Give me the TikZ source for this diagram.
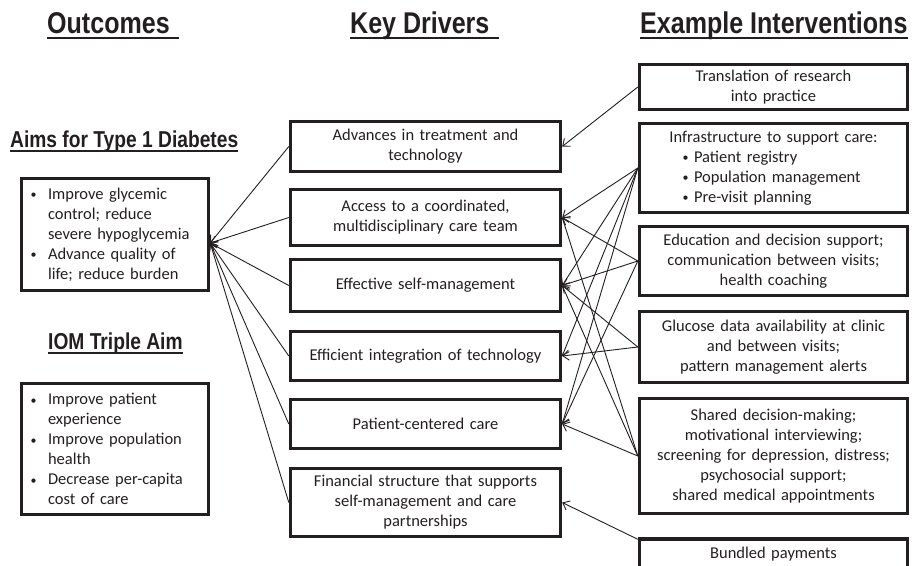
\documentclass[tikz,border=0pt]{standalone}
\usepackage{fontspec}
\setmainfont{Carlito}
\newfontfamily\hdfont{Liberation Sans}[FakeStretch=0.835]
\usetikzlibrary{arrows.meta}
\definecolor{ink}{HTML}{231F20}
\newcommand{\kdbg}{{\fontsize{12}{12}\selectfont\raisebox{0.6pt}{\textbullet}}}
\newcommand{\kdbul}{\makebox[19pt][l]{\hspace{1.5pt}\kdbg}}
\newcommand{\kdind}{\hspace*{19pt}}
\newcommand{\kdbulR}{\hspace*{33pt}\makebox[13pt][l]{\hspace{1.5pt}\kdbg}}
\begin{document}
\begin{tikzpicture}[x=1pt,y=-1pt,
  box/.style={draw=ink, line width=3.4pt, inner sep=0pt, align=center, text=ink,
    font={\fontsize{16.5}{20}\selectfont}},
  mid/.style={box, text width=264pt, minimum width=270pt},
  rgt/.style={box, text width=262pt, minimum width=268pt},
  lft/.style={box, align=left, text width=172pt, minimum width=187pt},
  hd/.style={inner sep=0pt, anchor=base west, text=ink,
    font={\hdfont\bfseries\fontsize{30}{34}\selectfont}},
  subhd/.style={inner sep=0pt, anchor=base west, text=ink,
    font={\hdfont\bfseries\fontsize{23}{26}\selectfont}},
  ul/.style={draw=ink, line width=2pt},
  conn/.style={draw=ink, line width=0.9pt, -{Straight Barb[length=6pt,width=10pt]}}
]
\useasboundingbox (0,0) rectangle (912,565);
\clip (0,0) rectangle (912,565);

% headers
\node[hd] (hOut) at (47,33) {Outcomes};
\node[hd] (hKey) at (350,33) {Key Drivers};
\node[hd] (hEx) at (640,33) {Example Interventions};
\draw[ul] ([yshift=-4.5pt]hOut.base west) -- ([yshift=-4.5pt,xshift=9pt]hOut.base east);
\draw[ul] ([yshift=-4.5pt]hKey.base west) -- ([yshift=-4.5pt,xshift=9pt]hKey.base east);
\draw[ul] ([yshift=-4.5pt]hEx.base west) -- ([yshift=-4.5pt]hEx.base east);

\node[subhd] (hAims) at (10,147) {Aims for Type 1 Diabetes};
\draw[ul] ([yshift=-4pt]hAims.base west) -- ([yshift=-4pt]hAims.base east);
\node[subhd] (hIOM) at (48,349) {IOM Triple Aim};
\draw[ul] ([yshift=-4pt]hIOM.base west) -- ([yshift=-4pt]hIOM.base east);

% outcomes
\node[lft, minimum height=112pt] (L1) at (115,234.5)
  {\kdbul Improve glycemic\\\kdind control; reduce\\\kdind severe hypoglycemia\\\kdbul Advance quality of\\\kdind life; reduce burden};
\node[lft, minimum height=131pt] (L2) at (115,449)
  {\kdbul Improve patient\\\kdind experience\\\kdbul Improve population\\\kdind health\\\kdbul Decrease per-capita\\\kdind cost of care};

% key drivers
\node[mid, minimum height=50pt] (M1) at (425.5,146.5) {Advances in treatment and\\technology};
\node[mid, minimum height=56pt] (M2) at (425.5,217.5) {Access to a coordinated,\\multidisciplinary care team};
\node[mid, minimum height=52pt] (M3) at (425.5,285.5) {Effective self-management};
\node[mid, minimum height=49pt] (M4) at (425.5,356) {Efficient integration of technology};
\node[mid, minimum height=49pt] (M5) at (425.5,424) {Patient-centered care};
\node[mid, minimum height=68pt] (M6) at (425.5,502.5) {Financial structure that supports\\self-management and care\\partnerships};

% interventions
\node[rgt, minimum height=45pt] (R1) at (773.5,87) {Translation of research\\into practice};
\node[rgt, align=left, text width=251pt, minimum height=89pt] (R2) at (773.5,168)
  {\makebox[251pt][c]{Infrastructure to support care:}\\\kdbulR Patient registry\\\kdbulR Population management\\\kdbulR Pre-visit planning};
\node[rgt, minimum height=69pt] (R3) at (773.5,261) {Education and decision support;\\communication between visits;\\health coaching};
\node[rgt, minimum height=71pt] (R4) at (773.5,347) {Glucose data availability at clinic\\and between visits;\\pattern management alerts};
\node[rgt, minimum height=115pt] (R5) at (773.5,456) {Shared decision-making;\\motivational interviewing;\\screening for depression, distress;\\psychosocial support;\\shared medical appointments};
\node[rgt, minimum height=30pt] (R6) at (773.5,554) {Bundled payments};

% connectors to outcomes
\coordinate (aimpt) at ([yshift=-8.5pt]L1.east);
\foreach \m in {M1,M2,M3,M4,M5,M6} \draw[conn] (\m.west) -- (aimpt);

% connectors from interventions
\draw[conn] (R1.west) -- (M1.east);
\foreach \m in {M2,M3,M4,M5} \draw[conn] (R2.west) -- (\m.east);
\foreach \m in {M2,M3,M5} \draw[conn] (R3.west) -- (\m.east);
\foreach \m in {M3,M4} \draw[conn] (R4.west) -- (\m.east);
\foreach \m in {M2,M3,M5} \draw[conn] (R5.west) -- (\m.east);
\coordinate (r6pt) at ([yshift=-2pt]R6.north west);
\draw[conn] (r6pt) -- (M6.east);
\end{tikzpicture}
\end{document}
